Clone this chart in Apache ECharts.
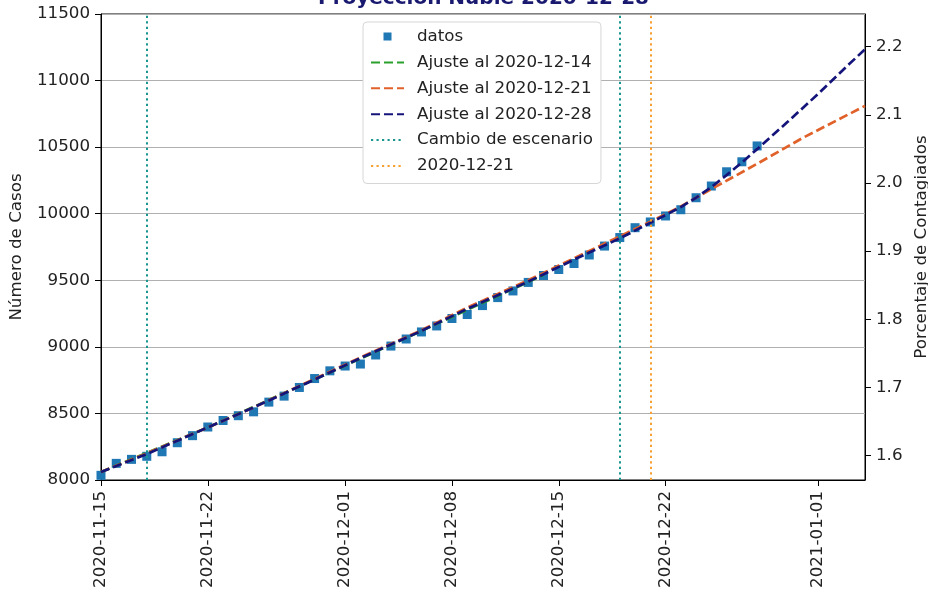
<!DOCTYPE html>
<html>
<head>
<meta charset="utf-8">
<script src="https://cdn.jsdelivr.net/npm/echarts@6/dist/echarts.min.js"></script>
<style>html,body{margin:0;padding:0;background:#fff}#c{width:928px;height:592px}</style>
</head>
<body>
<div id="c"></div>
<script>
// Days counted from 2020-11-15
const xTickDays = [0, 7, 16, 23, 30, 37, 47];
const xTickLabels = ['2020-11-15', '2020-11-22', '2020-12-01', '2020-12-08', '2020-12-15', '2020-12-22', '2021-01-01'];
const yLeftTicks = [8000, 8500, 9000, 9500, 10000, 10500, 11000, 11500];
const yRightTicks = [1.6, 1.7, 1.8, 1.9, 2.0, 2.1, 2.2];

const datosDias = [0,1,2,3,4,5,6,7,8,9,10,11,12,13,14,15,16,17,18,19,20,21,22,23,24,25,26,27,28,29,30,31,32,33,34,35,36,37,38,39,40,41,42,43];
const datosCasos = [8035,8125,8155,8178,8212,8280,8333,8398,8447,8483,8512,8585,8630,8695,8762,8820,8856,8871,8939,9006,9059,9112,9157,9213,9243,9310,9370,9420,9484,9536,9581,9626,9690,9757,9821,9895,9938,9983,10030,10120,10208,10315,10390,10509];

const ajuste14Dias = [0, 7, 14, 21, 29];
const ajuste14Casos = [8060, 8395, 8755, 9120, 9540];

const ajuste21Dias = [0, 3, 7, 10, 14, 17, 21, 24, 28, 31, 34, 36, 38, 40, 43, 46, 50.07];
const ajuste21Casos = [8060, 8200, 8395, 8545, 8760, 8920, 9125, 9295, 9500, 9665, 9830, 9940, 10055, 10185, 10375, 10570, 10810];

const ajuste28Dias = [0, 3, 7, 10, 14, 17, 21, 24, 28, 31, 34, 37, 38, 39, 40, 41, 42, 43, 45, 47, 49, 50.07];
const ajuste28Casos = [8060, 8195, 8395, 8545, 8755, 8915, 9120, 9285, 9490, 9655, 9815, 9990, 10050, 10120, 10200, 10290, 10385, 10485, 10690, 10900, 11120, 11235];

const cambioEscenarioDias = [3, 34];
const corteDias = [36];

const xMax = 50.07;
const yMin = 8000, yMax = 11500;
const poblacion = 511551;

const pair = (xs, ys) => xs.map((x, i) => [x, ys[i]]);
const FS = 16.7;
const txt = '#222';
const font = 'DejaVu Sans';
const dash = [9, 4];
const dot = [2.2, 3.3];
const lineLegend = name => ({ name, itemStyle: { opacity: 0 } });

const chart = echarts.init(document.getElementById('c'));
chart.setOption({
  animation: false,
  textStyle: { fontFamily: font },
  title: {
    text: 'Proyección Ñuble 2020-12-28',
    left: 313, top: -16,
    textStyle: { color: '#191970', fontWeight: 'bold', fontSize: 20, fontFamily: font }
  },
  grid: { left: 101, right: 63, top: 14, bottom: 112, outerBoundsMode: 'none', containLabel: false,
    show: true, borderColor: '#000', borderWidth: 1, backgroundColor: 'transparent' },
  legend: {
    orient: 'vertical', left: 363, top: 22,
    padding: [6, 8, 9, 7], itemGap: 8.9, itemWidth: 33, itemHeight: 10,
    backgroundColor: '#fff', borderColor: '#d6d6d6', borderWidth: 1, borderRadius: 4,
    textStyle: { fontSize: FS, color: txt, fontFamily: font, padding: [0, 0, 0, 8] },
    data: [
      { name: 'datos', icon: 'path://M0,0 M33,10 M12.5,1 L20.5,1 L20.5,9 L12.5,9 Z' },
      lineLegend('Ajuste al 2020-12-14'),
      lineLegend('Ajuste al 2020-12-21'),
      lineLegend('Ajuste al 2020-12-28'),
      lineLegend('Cambio de escenario'),
      lineLegend('2020-12-21')
    ]
  },
  xAxis: {
    type: 'value', min: 0, max: xMax,
    axisLine: { lineStyle: { color: '#000', width: 1 } },
    axisTick: { show: true, length: 6, customValues: xTickDays, lineStyle: { color: '#000' } },
    axisLabel: { rotate: 90, margin: 11, fontSize: FS, color: txt, fontFamily: font,
      customValues: xTickDays,
      formatter: v => xTickLabels[xTickDays.indexOf(Math.round(v))] || '' },
    splitLine: { show: false }
  },
  yAxis: [{
    type: 'value', min: yMin, max: yMax, interval: 500, position: 'left',
    name: 'Número de Casos', nameLocation: 'middle', nameGap: 76, nameRotate: 90,
    nameTextStyle: { fontSize: FS, color: txt, fontFamily: font },
    axisLine: { show: true, lineStyle: { color: '#000', width: 1 } },
    axisTick: { show: true, length: 6, lineStyle: { color: '#000' } },
    axisLabel: { margin: 11, fontSize: FS, color: txt, fontFamily: font, customValues: yLeftTicks,
      formatter: v => String(v) },
    splitLine: { show: true, lineStyle: { color: '#b0b0b0', width: 1 } }
  }, {
    type: 'value', min: yMin / poblacion * 100, max: yMax / poblacion * 100, position: 'right',
    name: 'Porcentaje de Contagiados', nameLocation: 'middle', nameGap: 43, nameRotate: 90,
    nameTextStyle: { fontSize: FS, color: txt, fontFamily: font },
    axisLine: { show: true, lineStyle: { color: '#000', width: 1 } },
    axisTick: { show: true, length: 6, customValues: yRightTicks, lineStyle: { color: '#000' } },
    axisLabel: { margin: 11, fontSize: FS, color: txt, fontFamily: font, customValues: yRightTicks,
      formatter: v => v.toFixed(1) },
    splitLine: { show: false }
  }],
  series: [
    { name: 'datos', type: 'scatter', symbol: 'rect', symbolSize: 9, z: 2,
      itemStyle: { color: '#1f77b4', opacity: 1 }, data: pair(datosDias, datosCasos) },
    { name: 'Ajuste al 2020-12-14', type: 'line', symbol: 'none', z: 3, clip: true,
      lineStyle: { color: '#2ca02c', width: 2.7, type: dash }, itemStyle: { color: '#2ca02c' },
      data: pair(ajuste14Dias, ajuste14Casos) },
    { name: 'Ajuste al 2020-12-21', type: 'line', symbol: 'none', z: 3, clip: true,
      lineStyle: { color: '#e0622a', width: 2.7, type: dash }, itemStyle: { color: '#e0622a' },
      data: pair(ajuste21Dias, ajuste21Casos) },
    { name: 'Ajuste al 2020-12-28', type: 'line', symbol: 'none', z: 3, clip: true,
      lineStyle: { color: '#14147a', width: 2.7, type: dash }, itemStyle: { color: '#14147a' },
      data: pair(ajuste28Dias, ajuste28Casos) },
    { name: 'Cambio de escenario', type: 'line', symbol: 'none', data: [],
      lineStyle: { color: '#1a9690', width: 2, type: dot }, itemStyle: { color: '#1a9690' },
      markLine: { silent: true, symbol: 'none', label: { show: false },
        lineStyle: { color: '#1a9690', width: 2, type: dot },
        data: cambioEscenarioDias.map(d => ({ xAxis: d })) } },
    { name: '2020-12-21', type: 'line', symbol: 'none', data: [],
      lineStyle: { color: '#f5a030', width: 2, type: dot }, itemStyle: { color: '#f5a030' },
      markLine: { silent: true, symbol: 'none', label: { show: false },
        lineStyle: { color: '#f5a030', width: 2, type: dot },
        data: corteDias.map(d => ({ xAxis: d })) } }
  ]
});
</script>
</body>
</html>
